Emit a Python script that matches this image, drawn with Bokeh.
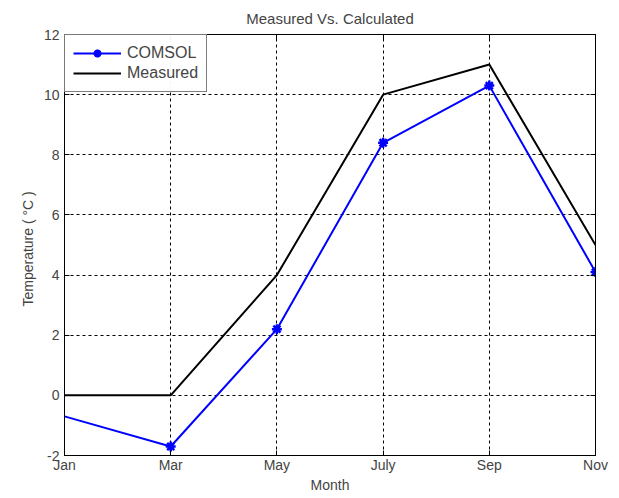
from bokeh.plotting import figure
from bokeh.models import FixedTicker, LinearAxis, Range1d, Legend, LegendItem, ColumnDataSource
from bokeh.embed import file_html
from bokeh.resources import INLINE

months = ["Jan", "Mar", "May", "July", "Sep", "Nov"]
x_pos = [0, 1, 2, 3, 4, 5]
comsol = [-0.7, -1.7, 2.2, 8.4, 10.3, 4.1]
measured = [0, 0, 4, 10, 11, 5]
y_ticks = [-2, 0, 2, 4, 6, 8, 10, 12]

FONT = "Liberation Sans"

p = figure(width=611, height=495, output_backend="svg", toolbar_location=None,
           x_range=Range1d(0, 5), y_range=Range1d(-2, 12),
           min_border_left=64, min_border_right=16, min_border_top=34, min_border_bottom=39,
           title="Measured Vs. Calculated")
p.title.text_font = FONT
p.title.text_font_size = "15px"
p.title.text_font_style = "normal"
p.title.align = "center"
p.title.offset = 0
p.title.standoff = 15

p.outline_line_color = "black"
p.outline_line_width = 1
p.background_fill_color = "white"
p.border_fill_color = "white"

for ax in [p.xaxis[0], p.yaxis[0]]:
    ax.axis_line_color = "black"
    ax.major_tick_in = 5
    ax.major_tick_out = 0
    ax.minor_tick_line_color = None
    ax.major_label_text_font = FONT
    ax.major_label_text_font_size = "14px"
    ax.axis_label_text_font = FONT
    ax.axis_label_text_font_size = "14px"
    ax.axis_label_text_font_style = "normal"
    ax.major_label_standoff = 2

p.xaxis.ticker = FixedTicker(ticks=x_pos)
p.xaxis.major_label_overrides = {i: m for i, m in zip(x_pos, months)}
p.xaxis.axis_label = "Month"
p.xaxis.axis_label_standoff = 1
p.xaxis.major_label_standoff = 1
p.yaxis.ticker = FixedTicker(ticks=y_ticks)
p.yaxis.major_label_overrides = {t: str(t) for t in y_ticks}
p.yaxis.axis_label = "Temperature (  \u00b0C  )"
p.yaxis.axis_label_standoff = 5
p.yaxis.major_label_standoff = 5

# top and right axes (ticks only)
top = LinearAxis(ticker=FixedTicker(ticks=x_pos), major_label_text_font_size="0px",
                 major_tick_in=5, major_tick_out=0, minor_tick_line_color=None)
right = LinearAxis(ticker=FixedTicker(ticks=y_ticks), major_label_text_font_size="0px",
                   major_tick_in=5, major_tick_out=0, minor_tick_line_color=None)
top.major_label_standoff = 0
right.major_label_standoff = 0
p.add_layout(top, "above")
p.add_layout(right, "right")

p.xgrid.ticker = FixedTicker(ticks=x_pos)
p.ygrid.ticker = FixedTicker(ticks=y_ticks)
p.grid.grid_line_color = "black"
p.grid.grid_line_dash = "3 3"
p.grid.grid_line_width = 1
p.grid.grid_line_alpha = 1

src_c = ColumnDataSource(dict(x=x_pos, y=comsol))
src_cm = ColumnDataSource(dict(x=x_pos[1:], y=comsol[1:]))
src_m = ColumnDataSource(dict(x=x_pos, y=measured))

l1 = p.line("x", "y", source=src_c, line_color="blue", line_width=2)
s1 = p.scatter("x", "y", source=src_cm, marker="asterisk", size=10, line_color="blue", line_width=2.5)
l2 = p.line("x", "y", source=src_m, line_color="black", line_width=2)

legend = Legend(items=[LegendItem(label="COMSOL", renderers=[l1, s1]),
                       LegendItem(label="Measured", renderers=[l2])],
                location="top_left")
legend.margin = 0
legend.padding = 8
legend.spacing = 0
legend.border_line_color = "black"
legend.border_line_width = 1.5
legend.label_text_font = FONT
legend.label_text_font_size = "16px"
legend.glyph_width = 48
legend.glyph_height = 20
legend.label_standoff = 6
legend.label_height = 20
p.add_layout(legend)

open("out.html", "w").write(file_html(p, INLINE))
